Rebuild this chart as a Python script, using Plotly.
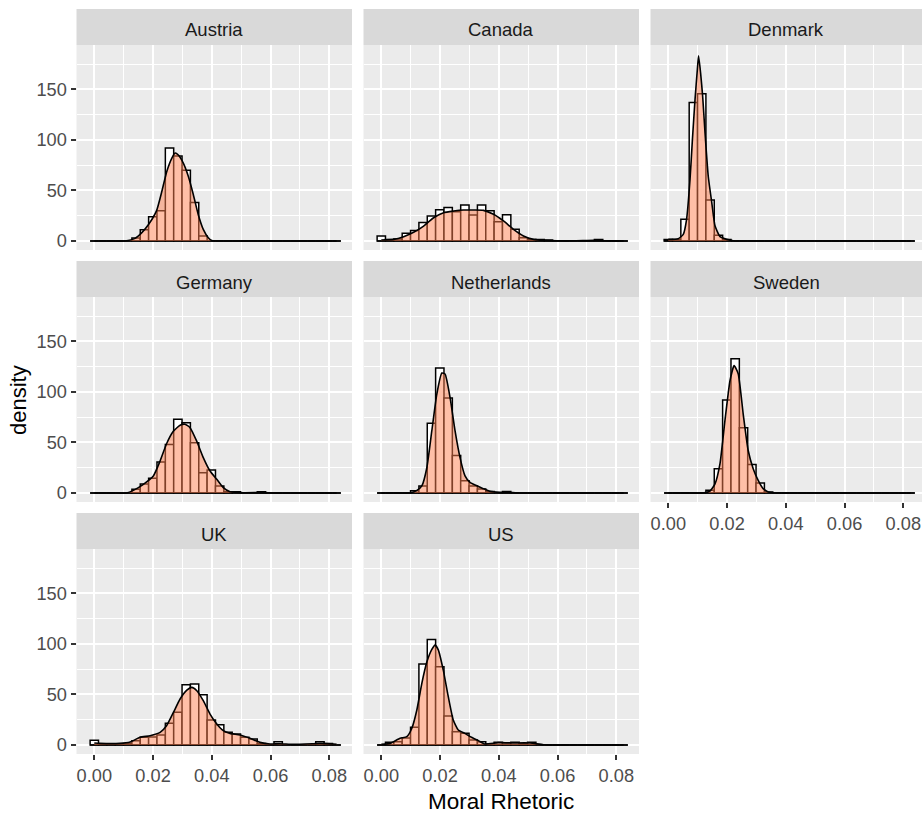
import plotly.graph_objects as go

# ---------------- data ----------------
BIN_WIDTH = 0.002845
N_BINS = 30

countries = ["Austria", "Canada", "Denmark", "Germany", "Netherlands", "Sweden", "UK", "US"]

# histogram heights (density units), one value per bin (bin k centred at k*BIN_WIDTH)
austria_hist = [0, 0, 0, 0, 0, 3, 11, 24, 30, 92, 84, 70, 38, 5, 0, 0, 0, 0, 0, 0, 0, 0, 0, 0, 0, 0, 0, 0, 0, 0]
canada_hist = [5, 1.5, 2, 7.6, 10.5, 18.4, 24.7, 31, 33, 29, 35.6, 25.7, 35.6, 30, 19, 26, 11.5, 3.3, 1.6, 1.6,
               1, 0, 0, 0, 0, 0, 1.6, 0, 0, 0]
denmark_hist = [1.5, 1.5, 21.4, 137, 145.6, 40.5, 5.6, 1.6, 0, 0, 0, 0, 0, 0, 0, 0, 0, 0, 0, 0,
                0, 0, 0, 0, 0, 0, 0, 0, 0, 0]
germany_hist = [0, 0, 0, 0, 0, 3.6, 9, 14.5, 30.6, 48, 72.8, 69.5, 49.7, 20, 22.7, 7, 1.3, 1.3, 0, 0,
                1.3, 0, 0, 0, 0, 0, 0, 0, 0, 0]
netherlands_hist = [0, 0, 0, 0, 2.3, 7, 69, 123.5, 94, 37, 12, 7, 4, 1.6, 0, 1.6, 0, 0, 0, 0,
                    0, 0, 0, 0, 0, 0, 0, 0, 0, 0]
sweden_hist = [0, 0, 0, 0, 0, 2.6, 24, 92, 132.7, 64.6, 28.3, 10, 1, 0, 0, 0, 0, 0, 0, 0,
               0, 0, 0, 0, 0, 0, 0, 0, 0, 0]
uk_hist = [4.6, 1, 1, 1, 1.6, 4.3, 7.6, 8, 10, 21.4, 32.3, 59.6, 60.3, 49.7, 24.7, 20, 12.5, 10.9, 7.6, 6,
           1.6, 0, 3.3, 0, 0, 0, 0, 3.3, 1.6, 0]
us_hist = [0, 2.6, 3.3, 7, 17.5, 80, 104.4, 77.4, 28.7, 13.2, 11.5, 5, 3.3, 1, 2.6, 2.3, 2.6, 1.6, 2.6, 0,
           0, 0, 0, 0, 0, 0, 0, 0, 0, 0]

# kernel density curves (x = moral rhetoric, y = density)
austria_dens_x = [0, 0.005, 0.0104, 0.0139, 0.0161, 0.0184, 0.0212, 0.0229, 0.0247, 0.0264, 0.0275, 0.0286,
                  0.0303, 0.032, 0.0337, 0.0354, 0.0371, 0.0388, 0.040, 0.043, 0.05, 0.06, 0.07, 0.078, 0.0825]
austria_dens_y = [0, 0, 0, 2.6, 8, 16, 30, 48, 69, 82, 87, 85, 77, 64, 46, 26, 11.5, 3.3, 0.5, 0, 0, 0, 0, 0, 0]

canada_dens_x = [0, 0.0042, 0.0076, 0.011, 0.0144, 0.0178, 0.0212, 0.0246, 0.028, 0.0314, 0.0348, 0.0382,
                 0.0416, 0.045, 0.0484, 0.0518, 0.0553, 0.0598, 0.066, 0.0725, 0.078, 0.0825]
canada_dens_y = [1, 1.6, 4.3, 8.6, 14.8, 23, 28, 29.6, 30.6, 30.6, 30.3, 26.4, 19.8, 11.5, 5, 1.6, 0.6, 0.2,
                 0.2, 0.6, 0.1, 0]

denmark_dens_x = [0, 0.0034, 0.0051, 0.0062, 0.0074, 0.0082, 0.0091, 0.0099, 0.0103, 0.011, 0.0117, 0.0125,
                  0.0136, 0.0148, 0.0159, 0.0176, 0.0199, 0.0221, 0.026, 0.035, 0.05, 0.065, 0.078, 0.0825]
denmark_dens_y = [1.6, 2.3, 6.6, 21, 61, 100, 140, 170, 183, 166, 143, 107, 64, 38, 15, 4.3, 1.6, 0.3, 0, 0,
                  0, 0, 0, 0]

germany_dens_x = [0, 0.005, 0.011, 0.0133, 0.0167, 0.0201, 0.0224, 0.0246, 0.0269, 0.0292, 0.0309, 0.0326,
                  0.0349, 0.0371, 0.0394, 0.0417, 0.0439, 0.0462, 0.0507, 0.057, 0.062, 0.068, 0.075, 0.0825]
germany_dens_y = [0, 0, 0, 2.6, 8.6, 16.8, 31.6, 48.7, 61, 67, 68, 64.6, 51, 35, 21.7, 13.5, 5.3, 1.3, 0.3,
                  0.4, 0, 0, 0, 0]

netherlands_dens_x = [0, 0.005, 0.0098, 0.012, 0.0138, 0.0155, 0.0172, 0.0189, 0.0206, 0.0217, 0.0234, 0.0251,
                      0.0268, 0.0285, 0.0302, 0.0325, 0.0347, 0.037, 0.0404, 0.0427, 0.0472, 0.055, 0.065,
                      0.075, 0.0825]
netherlands_dens_y = [0, 0, 0, 2.3, 7, 25, 61.6, 97.8, 118.6, 117.6, 94.5, 61.6, 35, 17, 10.5, 7.2, 4.3, 1.6,
                      0.6, 0.6, 0, 0, 0, 0, 0]

sweden_dens_x = [0, 0.006, 0.0119, 0.0142, 0.0159, 0.0176, 0.0193, 0.021, 0.0224, 0.0238, 0.0255, 0.0272,
                 0.0289, 0.0306, 0.0323, 0.034, 0.0369, 0.045, 0.055, 0.065, 0.075, 0.0825]
sweden_dens_y = [0, 0, 0, 2, 9, 29, 72, 111, 126, 118, 78, 42, 24, 12.5, 4.3, 1, 0, 0, 0, 0, 0, 0]

uk_dens_x = [0, 0.0019, 0.0087, 0.0122, 0.0156, 0.019, 0.0224, 0.0246, 0.0269, 0.0292, 0.0315, 0.0332,
             0.0349, 0.0371, 0.0394, 0.0417, 0.0439, 0.0462, 0.0496, 0.053, 0.0564, 0.0598, 0.0632, 0.0677,
             0.0746, 0.0768, 0.0825]
uk_dens_y = [2, 1.6, 1.6, 3, 7.6, 9.2, 12.5, 19, 32, 45.5, 54.3, 57, 53.7, 43.8, 30.6, 20.8, 14.2, 11.5, 9.9,
             6.6, 2.6, 1, 1.3, 0.6, 1.3, 1.6, 0.8]

us_dens_x = [0, 0.003, 0.0064, 0.0087, 0.0104, 0.0121, 0.0138, 0.0155, 0.0172, 0.0183, 0.0194, 0.0211, 0.0228,
             0.0245, 0.0262, 0.0284, 0.0307, 0.033, 0.0352, 0.0398, 0.0438, 0.0506, 0.0552, 0.062, 0.07,
             0.0825]
us_dens_y = [0.7, 1.6, 6.6, 8.2, 16.5, 34.6, 61, 82, 94.5, 98.8, 94, 74, 47.8, 24.7, 14.8, 11.5, 7.6, 4.3, 1,
             2.3, 2, 2, 0.3, 0, 0, 0]

hists = [austria_hist, canada_hist, denmark_hist, germany_hist, netherlands_hist, sweden_hist, uk_hist, us_hist]
dens_x = [austria_dens_x, canada_dens_x, denmark_dens_x, germany_dens_x, netherlands_dens_x, sweden_dens_x,
          uk_dens_x, us_dens_x]
dens_y = [austria_dens_y, canada_dens_y, denmark_dens_y, germany_dens_y, netherlands_dens_y, sweden_dens_y,
          uk_dens_y, us_dens_y]

x_tick_vals = [0.00, 0.02, 0.04, 0.06, 0.08]
x_tick_text = ["0.00", "0.02", "0.04", "0.06", "0.08"]
y_tick_vals = [0, 50, 100, 150]
y_tick_text = ["0", "50", "100", "150"]

# ---------------- layout geometry (pixels) ----------------
FW, FH = 922, 816
COLS = [(76.5, 352.0), (363.5, 639.0), (650.5, 922.0)]
ZERO_PX = [94.3, 381.3, 668.3]
PX_PER_UNIT = 2937.5
ROWS = [(45, 250), (297, 502), (549, 754)]
STRIP_H = 36
Y_RANGE = [-8.9, 193.8]

FONT = "Liberation Sans, Arial, sans-serif"
TICK_FONT = dict(family=FONT, size=18.2, color="#4D4D4D")

centers = [k * BIN_WIDTH for k in range(N_BINS)]

fig = go.Figure()
layout_axes = {}
shapes = []
annotations = []

for i, name in enumerate(countries):
    r, c = divmod(i, 3)
    sfx = "" if i == 0 else str(i + 1)
    xref, yref = "x" + sfx, "y" + sfx

    fig.add_trace(go.Bar(x=centers, y=hists[i], width=BIN_WIDTH, xaxis=xref, yaxis=yref,
                         marker=dict(color="white", line=dict(color="black", width=1.5)),
                         showlegend=False, hoverinfo="skip"))
    fig.add_trace(go.Scatter(x=[centers[0] - BIN_WIDTH / 2, centers[-1] + BIN_WIDTH / 2], y=[0, 0],
                             mode="lines", line=dict(color="black", width=1.5), xaxis=xref, yaxis=yref,
                             showlegend=False, hoverinfo="skip"))
    fig.add_trace(go.Scatter(x=dens_x[i], y=dens_y[i], mode="lines", xaxis=xref, yaxis=yref,
                             line=dict(color="black", width=1.6, shape="spline", smoothing=0.5),
                             fill="tozeroy", fillcolor="rgba(255,127,80,0.5)",
                             showlegend=False, hoverinfo="skip"))

    l, rr = COLS[c]
    t, b = ROWS[r]
    xr = [(l - ZERO_PX[c]) / PX_PER_UNIT, (rr - ZERO_PX[c]) / PX_PER_UNIT]
    show_x = name in ("Sweden", "UK", "US")
    show_y = c == 0

    layout_axes["xaxis" + sfx] = dict(
        domain=[l / FW, rr / FW], range=xr, anchor=yref,
        tickvals=x_tick_vals, ticktext=x_tick_text, showticklabels=show_x,
        ticks="outside" if show_x else "", ticklen=5, tickwidth=1.5, tickcolor="#333333",
        tickfont=TICK_FONT, showgrid=True, gridcolor="white", gridwidth=2,
        minor=dict(dtick=0.01, tick0=0, showgrid=True, gridcolor="white", gridwidth=1, ticks=""),
        zeroline=False, showline=False, fixedrange=True)
    layout_axes["yaxis" + sfx] = dict(
        domain=[1 - b / FH, 1 - t / FH], range=Y_RANGE, anchor=xref,
        tickvals=y_tick_vals, ticktext=y_tick_text, showticklabels=show_y,
        ticks="outside" if show_y else "", ticklen=5, tickwidth=1.5, tickcolor="#333333",
        tickfont=TICK_FONT, showgrid=True, gridcolor="white", gridwidth=2,
        minor=dict(dtick=25, tick0=0, showgrid=True, gridcolor="white", gridwidth=1, ticks=""),
        zeroline=False, showline=False, fixedrange=True)

    shapes.append(dict(type="rect", xref="paper", yref="paper", x0=l / FW, x1=rr / FW,
                       y0=1 - t / FH, y1=1 - (t - STRIP_H) / FH,
                       fillcolor="#D9D9D9", line=dict(width=0), layer="below"))
    annotations.append(dict(text=name, xref="paper", yref="paper", x=(l + rr) / 2 / FW,
                            y=1 - (t - STRIP_H / 2 + 3) / FH, showarrow=False, xanchor="center",
                            yanchor="middle", font=dict(family=FONT, size=18.5, color="#1A1A1A")))

annotations.append(dict(text="Moral Rhetoric", xref="paper", yref="paper", x=501 / FW, y=1 - 801 / FH,
                        showarrow=False, xanchor="center", yanchor="middle",
                        font=dict(family=FONT, size=22.5, color="black")))
annotations.append(dict(text="density", xref="paper", yref="paper", x=18 / FW, y=1 - 400 / FH,
                        showarrow=False, xanchor="center", yanchor="middle", textangle=-90,
                        font=dict(family=FONT, size=22, color="black")))

fig.update_layout(width=FW, height=FH, margin=dict(l=0, r=0, t=0, b=0),
                  paper_bgcolor="white", plot_bgcolor="#EBEBEB", barmode="overlay",
                  shapes=shapes, annotations=annotations, showlegend=False, **layout_axes)

fig.write_html("out.html")
